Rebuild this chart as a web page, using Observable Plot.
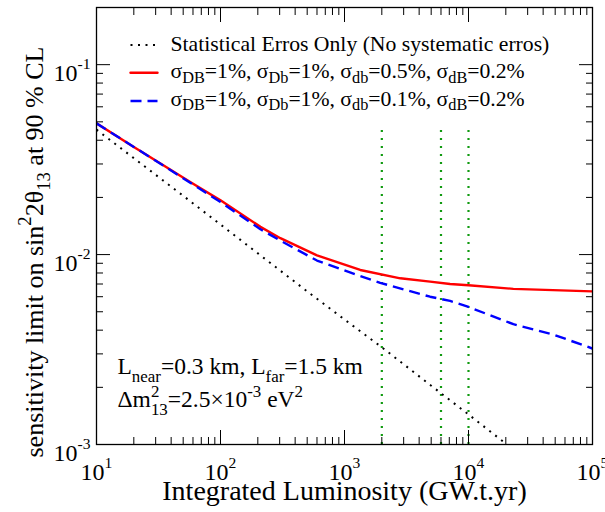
<!DOCTYPE html>
<html><head><meta charset="utf-8">
<script src="https://cdn.jsdelivr.net/npm/d3@7"></script>
<script src="https://cdn.jsdelivr.net/npm/@observablehq/plot@0.6"></script>
<style>html,body{margin:0;padding:0;background:#fff;overflow:hidden;}#chart{width:605px;height:512px;}</style>
</head><body><div id="chart"></div>
<script>
// ---- data ----
const statX = [10, 20, 50, 100, 219, 500, 1000, 2000, 5000, 10000, 20000];
const statY = [0.0455, 0.0322, 0.0204, 0.0144, 0.0097, 0.0064, 0.00455, 0.00325, 0.00204, 0.00144, 0.00101];
const redX  = [10, 20, 30, 57, 100, 210, 304, 600, 1340, 2820, 4900, 7100, 10000, 23000, 48000, 100000];
const redY  = [0.0491, 0.0369, 0.0313, 0.0241, 0.0193, 0.0140, 0.0122, 0.0099, 0.0083, 0.0075, 0.0072, 0.0070, 0.0069, 0.0066, 0.0065, 0.0064];
const blueX = [10, 20, 30, 57, 100, 210, 300, 600, 1340, 1940, 4900, 7100, 10000, 23000, 48000, 100000];
const blueY = [0.0491, 0.0369, 0.0312, 0.0239, 0.0189, 0.0136, 0.0119, 0.0093, 0.0077, 0.0071, 0.0060, 0.0057, 0.0053, 0.0043, 0.0038, 0.0032];
const markerX = [2000, 6000, 10000];
const markerBottom = 0.001;
const markerTop = 0.046;
const xDomain = [10, 100000];
const yDomain = [0.001, 0.2];
const xTicks = [10, 100, 1000, 10000, 100000];
const yTicks = [0.001, 0.01, 0.1];
const legendLabels = [
  "Statistical Erros Only (No systematic erros)",
  "σ_{DB}=1%, σ_{Db}=1%, σ_{db}=0.5%, σ_{dB}=0.2%",
  "σ_{DB}=1%, σ_{Db}=1%, σ_{db}=0.1%, σ_{dB}=0.2%"
];
const noteLabels = ["L_{near}=0.3 km, L_{far}=1.5 km", "Δm^{2}_{13}=2.5×10^{-3} eV^{2}"];
const xLabel = "Integrated Luminosity (GW.t.yr)";
const yLabel = "sensitivity limit on sin^{2}2θ_{13} at 90 % CL";

// ---- derived tables ----
const stat = statX.map((x, i) => ({x, y: statY[i]}));
const red = redX.map((x, i) => ({x, y: redY[i]}));
const blue = blueX.map((x, i) => ({x, y: blueY[i]}));
const xMinor = d3.range(1, 5).flatMap(e => d3.range(2, 10).map(k => k * 10 ** e));
const yMinor = [-3, -2, -1].flatMap(e => d3.range(2, 10).map(k => +(k * 10 ** e).toPrecision(3))).filter(v => v < yDomain[1]);
const powFmt = d => "10^{" + Math.round(Math.log10(d)) + "}";

const styles = [
  {stroke: "black", strokeDasharray: "2,5.5", strokeWidth: 2, strokeLinecap: "butt"},
  {stroke: "#ff0000", strokeWidth: 2.4},
  {stroke: "#0000ff", strokeWidth: 2.4, strokeDasharray: "11,6", strokeLinecap: "butt"}
];
const hline = {draw(ctx, l) { ctx.moveTo(0, 0); ctx.lineTo(l, 0); }};
const legendRowsY = [37.5, 65.3, 93.5];
const legendTextY = [36.8, 63.8, 91.3];
const T = {lineAnchor: "middle"};

const plot = Plot.plot({
  width: 605, height: 512,
  marginLeft: 96, marginRight: 13, marginTop: 7, marginBottom: 68,
  style: {fontFamily: "'Liberation Serif', 'Times New Roman', serif", fontSize: "21px", background: "#fff", color: "black"},
  x: {type: "log", domain: xDomain},
  y: {type: "log", domain: yDomain},
  marks: [
    Plot.ruleX(markerX, {x: d => d, y1: markerBottom, y2: markerTop, stroke: "#109a10", strokeWidth: 2.2, strokeDasharray: "2,6"}),
    Plot.line(stat, {x: "x", y: "y", clip: true, ...styles[0]}),
    Plot.line(red, {x: "x", y: "y", clip: true, ...styles[1]}),
    Plot.line(blue, {x: "x", y: "y", clip: true, ...styles[2]}),
    // ticks (inward, all four sides)
    Plot.axisX(xTicks, {anchor: "bottom", tickSize: -14, fill: "none", label: null}),
    Plot.axisX(xMinor, {anchor: "bottom", tickSize: -7, fill: "none", label: null}),
    Plot.axisX(xTicks, {anchor: "top", tickSize: -14, fill: "none", label: null}),
    Plot.axisX(xMinor, {anchor: "top", tickSize: -7, fill: "none", label: null}),
    Plot.axisY(yTicks, {anchor: "left", tickSize: -14, fill: "none", label: null}),
    Plot.axisY(yMinor, {anchor: "left", tickSize: -7, fill: "none", label: null}),
    Plot.axisY(yTicks, {anchor: "right", tickSize: -14, fill: "none", label: null}),
    Plot.axisY(yMinor, {anchor: "right", tickSize: -7, fill: "none", label: null}),
    // tick labels
    Plot.axisX(xTicks, {anchor: "bottom", tickSize: 0, tickPadding: 18, tickFormat: powFmt, fontSize: 24, label: null}),
    Plot.axisY(yTicks, {anchor: "left", tickSize: 0, tickPadding: 6, dy: 8.5, tickFormat: powFmt, fontSize: 24, label: null}),
    Plot.frame({stroke: "black", strokeWidth: 1.3}),
    // legend
    ...styles.map((s, i) => Plot.vector([legendLabels[i]], {frameAnchor: "top-left", dx: 34, dy: legendRowsY[i], length: 27, rotate: 0, anchor: "start", shape: hline, ...s})),
    ...legendLabels.map((t, i) => Plot.text([t], {...T, frameAnchor: "top-left", dx: 74, dy: legendTextY[i], textAnchor: "start", fontSize: 21.7})),
    // annotation
    Plot.text([noteLabels[0]], {...T, frameAnchor: "bottom-left", dx: 21, dy: -78.5, textAnchor: "start", fontSize: 23.5}),
    Plot.text([noteLabels[1]], {...T, frameAnchor: "bottom-left", dx: 21, dy: -45.5, textAnchor: "start", fontSize: 23.5}),
    // axis titles
    Plot.text([xLabel], {...T, frameAnchor: "bottom", textAnchor: "middle", dy: 47, fontSize: 28}),
    Plot.text([yLabel], {...T, frameAnchor: "left", textAnchor: "middle", rotate: -90, dx: -62.3, dy: 26, fontSize: 26})
  ]
});
document.getElementById("chart").appendChild(plot);

// ---- rich text (sub/superscripts) ----
function richify(el, opt) {
  const raw = el.textContent;
  if (!/[\^_]\{/.test(raw)) return;
  const fs = parseFloat(getComputedStyle(el).fontSize);
  const re = /([\^_])\{([^}]*)\}/g;
  const parts = []; let last = 0, m;
  while ((m = re.exec(raw))) {
    if (m.index > last) parts.push({t: raw.slice(last, m.index), k: "n"});
    parts.push({t: m[2], k: m[1] === "^" ? "sup" : "sub"});
    last = re.lastIndex;
  }
  if (last < raw.length) parts.push({t: raw.slice(last), k: "n"});
  el.textContent = "";
  let cur = 0, prev = null;
  for (const p of parts) {
    const ts = document.createElementNS("http://www.w3.org/2000/svg", "tspan");
    const target = p.k === "n" ? 0 : (p.k === "sup" ? -opt.sup * fs : opt.sub * fs);
    ts.setAttribute("dy", (target - cur).toFixed(2));
    cur = target;
    if (p.k !== "n") ts.setAttribute("font-size", (fs * opt.small).toFixed(2));
    ts.textContent = p.t;
    el.appendChild(ts);
    if (p.k === "sub" && prev && prev.k === "sup" && opt.stack) ts.setAttribute("dx", (-prev.el.getComputedTextLength()).toFixed(2));
    prev = {k: p.k, el: ts};
  }
}
const optsFor = new Map();
legendLabels.forEach(t => optsFor.set(t, {sup: 0.4, sub: 0.2, small: 0.75}));
noteLabels.forEach(t => optsFor.set(t, {sup: 0.4, sub: 0.37, small: 0.72, stack: true}));
optsFor.set(yLabel, {sup: 0.45, sub: 0.3, small: 0.72});
const tickOpts = {sup: 0.5, sub: 0.3, small: 0.65};
d3.select(plot).selectAll("text").each(function() {
  richify(this, optsFor.get(this.textContent) || tickOpts);
});
</script></body></html>
